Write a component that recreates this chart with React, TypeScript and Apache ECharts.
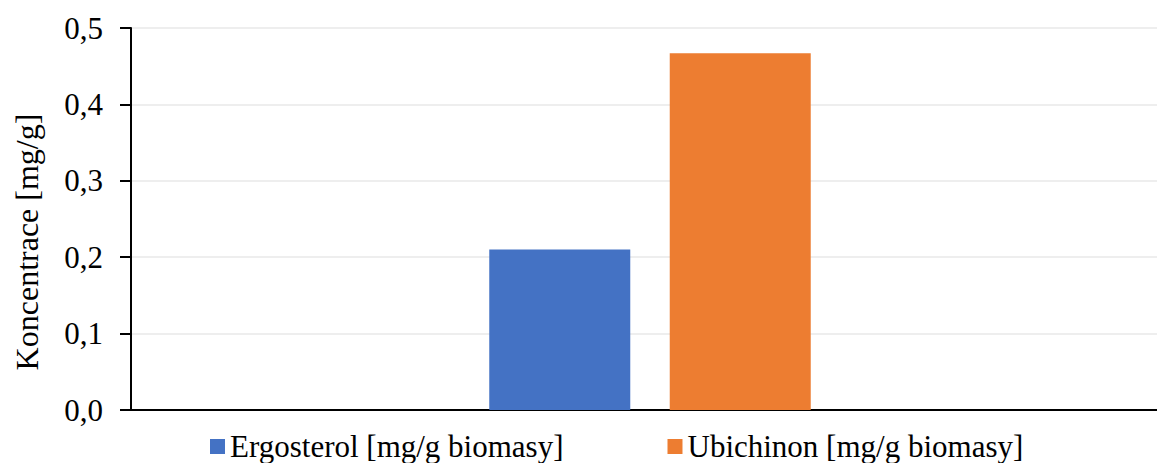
import React, { useEffect, useRef } from "react";
import * as echarts from "echarts";

const categories = [""];
const seriesNames = ["Ergosterol [mg/g biomasy]", "Ubichinon [mg/g biomasy]"];
const ergosterol = [0.21];
const ubichinon = [0.467];
const seriesColors = ["#4472C4", "#ED7D31"];
const yAxisTitle = "Koncentrace [mg/g]";

export default function App() {
  const ref = useRef<HTMLDivElement>(null);
  useEffect(() => {
    document.body.style.margin = "0";
    const chart = echarts.init(ref.current!, null, { renderer: "svg" });
    const font = "Liberation Serif";
    chart.setOption({
      animation: false,
      backgroundColor: "#ffffff",
      grid: { left: 131, right: 0, top: 28, bottom: 53, containLabel: false },
      legend: {
        left: 205,
        top: 426,
        itemWidth: 15,
        itemHeight: 15,
        itemGap: 104,
        icon: "rect",
        textStyle: { fontFamily: font, fontSize: 31, color: "#000" },
        data: seriesNames,
      },
      xAxis: {
        type: "category",
        data: categories,
        axisLine: { lineStyle: { color: "#000", width: 2 } },
        axisTick: { show: false },
        axisLabel: { show: false },
      },
      yAxis: {
        type: "value",
        min: 0,
        max: 0.5,
        interval: 0.1,
        axisLine: { show: true, lineStyle: { color: "#000", width: 2 } },
        axisTick: { show: true, length: 11, lineStyle: { color: "#000", width: 2 } },
        axisLabel: {
          margin: 28,
          fontFamily: font,
          fontSize: 31,
          color: "#000",
          formatter: (v: number) => v.toFixed(1).replace(".", ","),
        },
        splitLine: { lineStyle: { color: "#eeeeee", width: 2 } },
      },
      graphic: [
        {
          type: "text",
          x: 27,
          y: 242,
          rotation: Math.PI / 2,
          style: {
            text: yAxisTitle,
            fontFamily: font,
            fontSize: 32,
            fill: "#000",
            align: "center",
            verticalAlign: "middle",
          },
        },
      ],
      series: [
        {
          name: seriesNames[0],
          type: "bar",
          data: ergosterol,
          barWidth: 141,
          barGap: "28%",
          itemStyle: { color: seriesColors[0] },
        },
        {
          name: seriesNames[1],
          type: "bar",
          data: ubichinon,
          barWidth: 141,
          barGap: "28%",
          itemStyle: { color: seriesColors[1] },
        },
      ],
    });
    return () => chart.dispose();
  }, []);
  return (
    <div
      style={{
        position: "fixed",
        left: 0,
        top: 0,
        width: 1157,
        height: 463,
        overflow: "hidden",
      }}
    >
      <div ref={ref} style={{ width: 1169, height: 463 }} />
    </div>
  );
}
